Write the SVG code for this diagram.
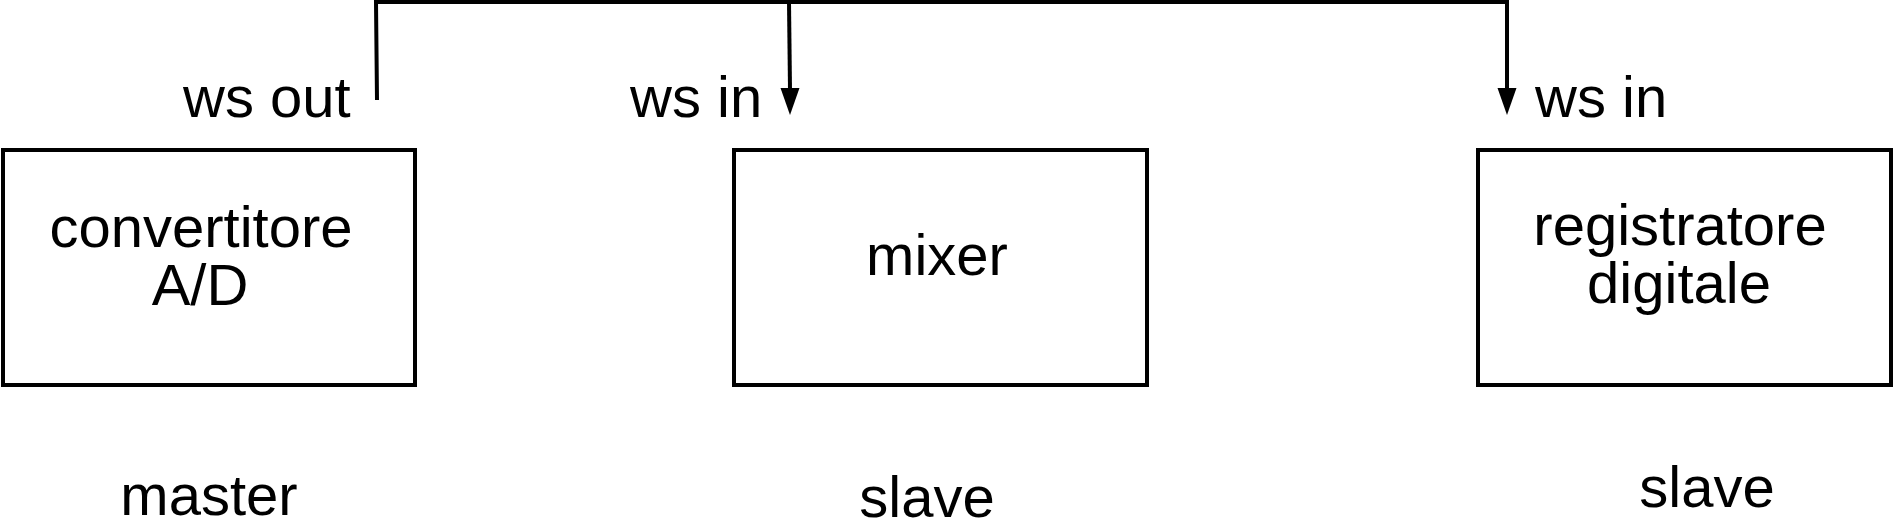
<svg xmlns="http://www.w3.org/2000/svg" width="1894" height="522" viewBox="0 0 1894 522">
<style>
.box{fill:#fff;stroke:#000;stroke-width:4}
.t{font-family:"Liberation Sans",Arial,sans-serif;font-size:58px;fill:#000}
.c{text-anchor:middle}
.w{fill:none;stroke:#000;stroke-width:4}
.ah{fill:#000}
</style>
<rect width="1894" height="522" fill="#fff"/>
<g id="connectors">
<polyline class="w" points="377,100 376,2 1507,2 1507,90"/>
<line class="w" x1="789" y1="2" x2="790" y2="90"/>
<path class="ah" d="M1497.5,88 L1516.5,88 L1507,115 Z"/>
<path class="ah" d="M780.5,88 L799.5,88 L790,115 Z"/>
</g>
<g id="label-wsout"><text class="t" x="183" y="117">ws out</text></g>
<g id="label-wsin1"><text class="t" x="630" y="117">ws in</text></g>
<g id="label-wsin2"><text class="t" x="1535" y="117">ws in</text></g>
<g id="node-converter">
<rect class="box" x="3" y="150" width="412" height="235"/>
<text class="t c" x="201" y="247">convertitore</text>
<text class="t c" x="200" y="305">A/D</text>
</g>
<g id="node-mixer">
<rect class="box" x="734" y="150" width="413" height="235"/>
<text class="t c" x="937" y="275">mixer</text>
</g>
<g id="node-recorder">
<rect class="box" x="1478" y="150" width="413" height="235"/>
<text class="t c" x="1680" y="245">registratore</text>
<text class="t c" x="1679" y="303">digitale</text>
</g>
<g id="role-master"><text class="t c" x="209" y="515">master</text></g>
<g id="role-slave1"><text class="t c" x="927" y="517">slave</text></g>
<g id="role-slave2"><text class="t c" x="1707" y="507">slave</text></g>
</svg>
